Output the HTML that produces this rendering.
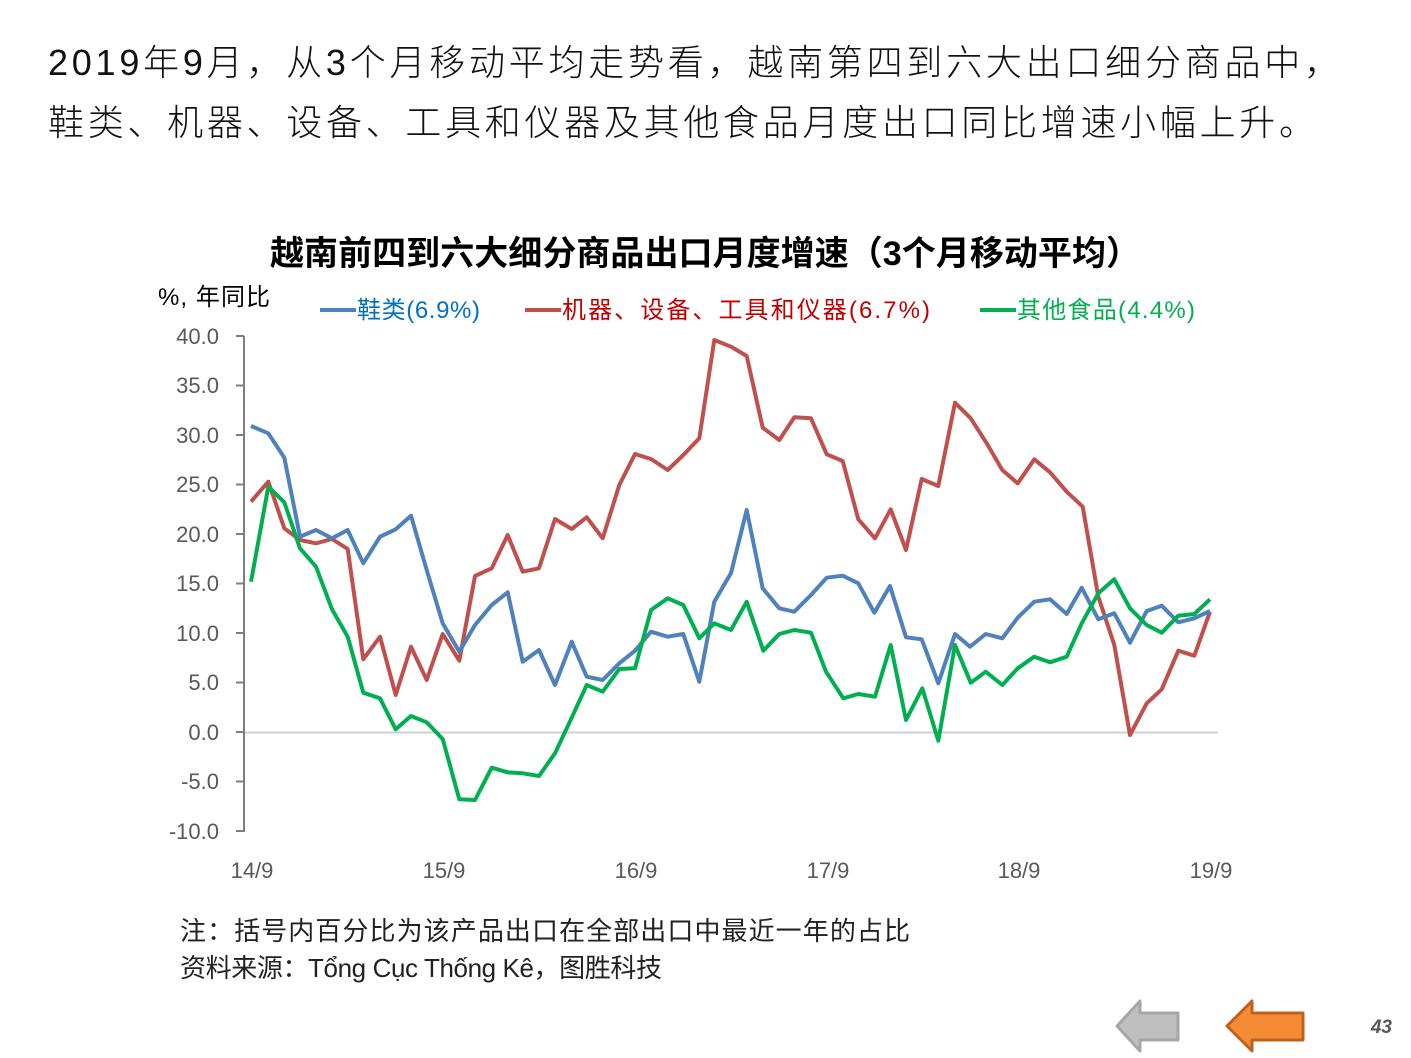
<!DOCTYPE html>
<html><head><meta charset="utf-8"><style>
body{margin:0;background:#fff;width:1411px;height:1058px;overflow:hidden}
svg{display:block}
</style></head><body>
<svg width="1411" height="1058" xmlns="http://www.w3.org/2000/svg">
<g font-family="'Liberation Sans','Noto Sans CJK SC',sans-serif" font-size="36" fill="#111" font-weight="300">
<text x="48" y="75" textLength="1292" lengthAdjust="spacing">2019年9月，从3个月移动平均走势看，越南第四到六大出口细分商品中，</text>
<text x="48" y="135" textLength="1267" lengthAdjust="spacing">鞋类、机器、设备、工具和仪器及其他食品月度出口同比增速小幅上升。</text>
</g>
<text x="270" y="265" textLength="870" lengthAdjust="spacing" font-family="'Liberation Sans','Noto Sans CJK SC',sans-serif" font-size="34" font-weight="bold" fill="#000">越南前四到六大细分商品出口月度增速（3个月移动平均）</text>
<text x="158" y="305" textLength="112" lengthAdjust="spacing" font-family="'Liberation Sans','Noto Sans CJK SC',sans-serif" font-size="24" fill="#000">%, 年同比</text>
<g font-family="'Liberation Sans','Noto Sans CJK SC',sans-serif" font-size="24">
<line x1="320" y1="310" x2="356" y2="310" stroke="#4F81BD" stroke-width="4"/>
<text x="357" y="318" textLength="123" lengthAdjust="spacing" fill="#0070C0">鞋类(6.9%)</text>
<line x1="525" y1="310" x2="561" y2="310" stroke="#C0504D" stroke-width="4"/>
<text x="562" y="318" textLength="368" lengthAdjust="spacing" fill="#C00000">机器、设备、工具和仪器(6.7%)</text>
<line x1="980" y1="310" x2="1016" y2="310" stroke="#00B050" stroke-width="4"/>
<text x="1017" y="318" textLength="178" lengthAdjust="spacing" fill="#00B050">其他食品(4.4%)</text>
</g>
<line x1="244" y1="732.5" x2="1218" y2="732.5" stroke="#d0d0d0" stroke-width="2"/>
<g stroke="#7f7f7f" stroke-width="2">
<line x1="244" y1="336" x2="244" y2="832"/>
<line x1="236" y1="336" x2="244" y2="336"/><line x1="236" y1="385.5" x2="244" y2="385.5"/><line x1="236" y1="435" x2="244" y2="435"/><line x1="236" y1="484.5" x2="244" y2="484.5"/><line x1="236" y1="534" x2="244" y2="534"/><line x1="236" y1="583.5" x2="244" y2="583.5"/><line x1="236" y1="633" x2="244" y2="633"/><line x1="236" y1="682.5" x2="244" y2="682.5"/><line x1="236" y1="732" x2="244" y2="732"/><line x1="236" y1="781.5" x2="244" y2="781.5"/><line x1="236" y1="831" x2="244" y2="831"/>
</g>
<g font-family="'Liberation Sans',sans-serif" font-size="22" fill="#595959" text-anchor="end">
<text x="219" y="344">40.0</text><text x="219" y="393">35.0</text><text x="219" y="443">30.0</text><text x="219" y="492">25.0</text><text x="219" y="542">20.0</text><text x="219" y="591">15.0</text><text x="219" y="641">10.0</text><text x="219" y="690">5.0</text><text x="219" y="740">0.0</text><text x="219" y="789">-5.0</text><text x="219" y="839">-10.0</text>
</g>
<g font-family="'Liberation Sans',sans-serif" font-size="22" fill="#595959" text-anchor="middle">
<text x="252" y="878">14/9</text><text x="444" y="878">15/9</text><text x="636" y="878">16/9</text><text x="828" y="878">17/9</text><text x="1019" y="878">18/9</text><text x="1211" y="878">19/9</text>
</g>
<g fill="none" stroke-width="4" stroke-linejoin="round">
<polyline stroke="#C0504D" points="251,501.7 268.3,481.7 284.3,528.3 300,540 316,543.3 332,539 347.7,549 363.3,659.3 380,636.7 395.7,695 411,646.7 426.7,680 442.7,634 459.3,660.7 475,576 491.7,568.3 507.7,535 522.7,571.7 539,568.3 555,519 571.7,529 586.7,517.3 602.7,538.3 619.3,485 635,454 651,459 667.7,470 683.3,455 699.3,438.3 714.3,340 731,346.7 746.7,356 762.7,427.7 779.3,440 794.3,417.3 811,418.3 826.7,454.3 842.7,461 858.3,519.3 875,538.3 890.7,509.3 906,550 921.7,479 938.3,486 955,402.7 970.7,418.3 986.7,443.3 1002.3,470 1017.7,483.3 1034.3,459.3 1050,472.3 1066.7,491.7 1082.7,506.7 1098.3,596.7 1114.3,645 1130,735 1146.7,703.3 1161.7,689.3 1178.3,650.7 1194.3,655.7 1210,611.7"/>
<polyline stroke="#4F81BD" points="251,426 268.3,433.3 284.3,457.7 300,536.7 316,530 332,538.3 347.7,530 363.3,563.3 380,536.7 395.7,529.3 411,515.7 426.7,570 442.7,623.3 459.3,651.7 475,625 491.7,605 507.7,592.3 522.7,661.7 539,650 555,685 571.7,641.7 586.7,676.7 602.7,680 619.3,663.3 635,650.7 651,631.7 667.7,636.7 683.3,634 699.3,681.7 714.3,601.7 731,573 746.7,510 762.7,588.3 779.3,608.3 794.3,611.7 811,595 826.7,577.7 842.7,575.7 858.3,583.3 874.3,612.7 890,586 906,637.3 921.7,639.3 938.3,683.3 955,634 970,646.7 985.7,634 1002.3,638.3 1017.7,617.7 1034.3,601.7 1050,599.3 1066.7,614 1081.7,587.7 1098.3,619.3 1114.3,613.3 1130,642.7 1146.7,611 1161.7,605.7 1178.3,622.3 1194.3,618.3 1210,611"/>
<polyline stroke="#00B050" points="251,581.7 268.3,486.7 284.3,502.3 300,548.3 316,566.7 332,609.3 347.7,636.7 363.3,692.7 380,698.3 395.7,729.3 411,716 426.7,722.3 442.7,739 459.3,799.3 475,800 491.7,767.7 507.7,772.3 522.7,773.3 539,776 555,753.3 571.7,717.7 586.7,685 602.7,691.7 619.3,669 635,668.3 651,610 667.7,598.3 683.3,605 699.3,638.3 714.3,623.3 731,630 746.7,601.7 763.3,650.7 779.3,634 794.3,630 811,632.7 826,671.7 843.3,698.3 858.3,694 875,696.7 890.7,645 906,720 922.3,688.3 938.3,740.7 955,645 970.7,682.7 985.7,671.7 1002.3,685 1017.7,668.3 1034.3,656.7 1050,662.3 1066.7,656.7 1081.7,623.3 1098.3,593.3 1114.3,579.3 1130,608.3 1146.7,625 1161.7,632.7 1178.3,615.7 1194.3,614 1210,599.3"/>
</g>
<g font-family="'Liberation Sans','Noto Sans CJK SC',sans-serif" font-size="26" fill="#222">
<text x="180" y="940" textLength="730" lengthAdjust="spacing">注：括号内百分比为该产品出口在全部出口中最近一年的占比</text>
<text x="180" y="977" textLength="482" lengthAdjust="spacing">资料来源：Tổng Cục Thống Kê，图胜科技</text>
</g>
<polygon points="1117,1026 1140,1001 1140,1013 1178,1013 1178,1040 1140,1040 1140,1051" fill="#BFBFBF" stroke="#A6A6A6" stroke-width="3" stroke-linejoin="round"/>
<polygon points="1227,1026 1252,1001 1252,1013 1303,1013 1303,1040 1252,1040 1252,1051" fill="#F68B36" stroke="#C0601F" stroke-width="3" stroke-linejoin="round"/>
<text x="1392" y="1033" text-anchor="end" font-family="'Liberation Sans',sans-serif" font-size="19" font-weight="bold" font-style="italic" fill="#595959">43</text>
</svg>
</body></html>
